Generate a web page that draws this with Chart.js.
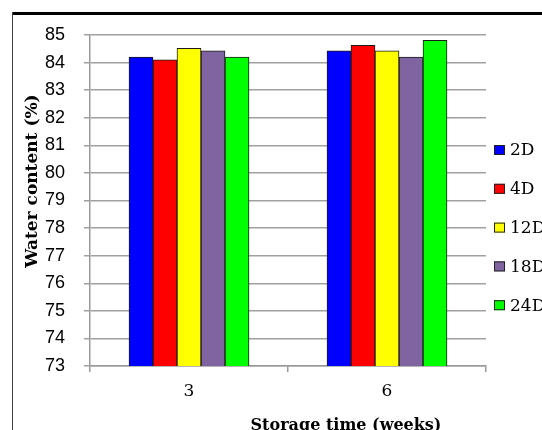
<!DOCTYPE html>
<html>
<head>
<meta charset="utf-8">
<script src="https://cdn.jsdelivr.net/npm/chart.js@4"></script>
<style>
html,body{margin:0;padding:0;background:#fff;}
canvas{display:block;}
</style>
</head>
<body>
<canvas id="chart" width="542" height="430"></canvas>
<script>
const weeks=["3","6"]
const storageNames=["2D","4D","12D","18D","24D"]
const water2D=[84.20,84.43]
const water4D=[84.10,84.63]
const water12D=[84.52,84.43]
const water18D=[84.43,84.20]
const water24D=[84.20,84.81]
const yMin=73, yMax=85, yStep=1
const barColors=["#0000ff","#ff0000","#ffff00","#8064a2","#00ff00"]
const xTitle="Storage time (weeks)"
const yTitle="Water content (%)"

const allValues=[water2D,water4D,water12D,water18D,water24D]

// frame, legend and axis titles
const extras={
id:"extras",
afterDraw(chart){
const ctx=chart.ctx
ctx.save()

// frame lines of the original picture
ctx.fillStyle="#000"
ctx.fillRect(12,12,530,3)
ctx.fillStyle="#404040"
ctx.fillRect(12,12,1,418)

// legend
ctx.font="17px 'DejaVu Serif'"
ctx.textBaseline="middle"
ctx.textAlign="left"
chart.data.datasets.forEach((d,i)=>{
const y=150+i*38.8
ctx.fillStyle=d.backgroundColor
ctx.fillRect(494,y-5,11,10)
ctx.strokeStyle="#222"
ctx.lineWidth=1
ctx.strokeRect(494.5,y-4.5,10,9)
ctx.fillStyle="#000"
ctx.fillText(d.label,510,y+1)
})

// axis titles
ctx.fillStyle="#000"
ctx.textAlign="center"
ctx.textBaseline="alphabetic"
ctx.font="bold 16px 'DejaVu Serif'"
ctx.fillText(xTitle,346,430)

ctx.font="bold 17px 'DejaVu Serif'"
ctx.translate(37,181)
ctx.rotate(-Math.PI/2)
ctx.fillText(yTitle,0,0)

ctx.restore()
}
}

new Chart(document.getElementById("chart"),{
type:"bar",
data:{
labels:weeks,
datasets:storageNames.map((n,i)=>({
label:n,
data:allValues[i],
backgroundColor:barColors[i],
borderColor:"#1a1a1a",
borderWidth:1,
borderSkipped:false,
barThickness:24
}))
},
options:{
responsive:false,
animation:false,
events:[],
layout:{padding:{left:0,top:35,right:56,bottom:0}},
plugins:{
legend:{display:false},
tooltip:{enabled:false}
},
scales:{
x:{
afterFit(s){s.height=64},
grid:{drawOnChartArea:false,drawTicks:true,tickLength:6,color:"#999",lineWidth:1.5,offset:true},
border:{color:"#999",width:1.5},
ticks:{color:"#000",font:{family:"'DejaVu Serif'",size:17},padding:9}
},
y:{
min:yMin,
max:yMax,
afterFit(s){s.width=90},
grid:{color:"#a0a0a0",lineWidth:1.5,tickLength:6},
border:{color:"#999",width:1.5},
ticks:{stepSize:yStep,color:"#000",font:{family:"'Liberation Sans'",size:18},padding:19}
}
}
},
plugins:[extras]
})
</script>
</body>
</html>
